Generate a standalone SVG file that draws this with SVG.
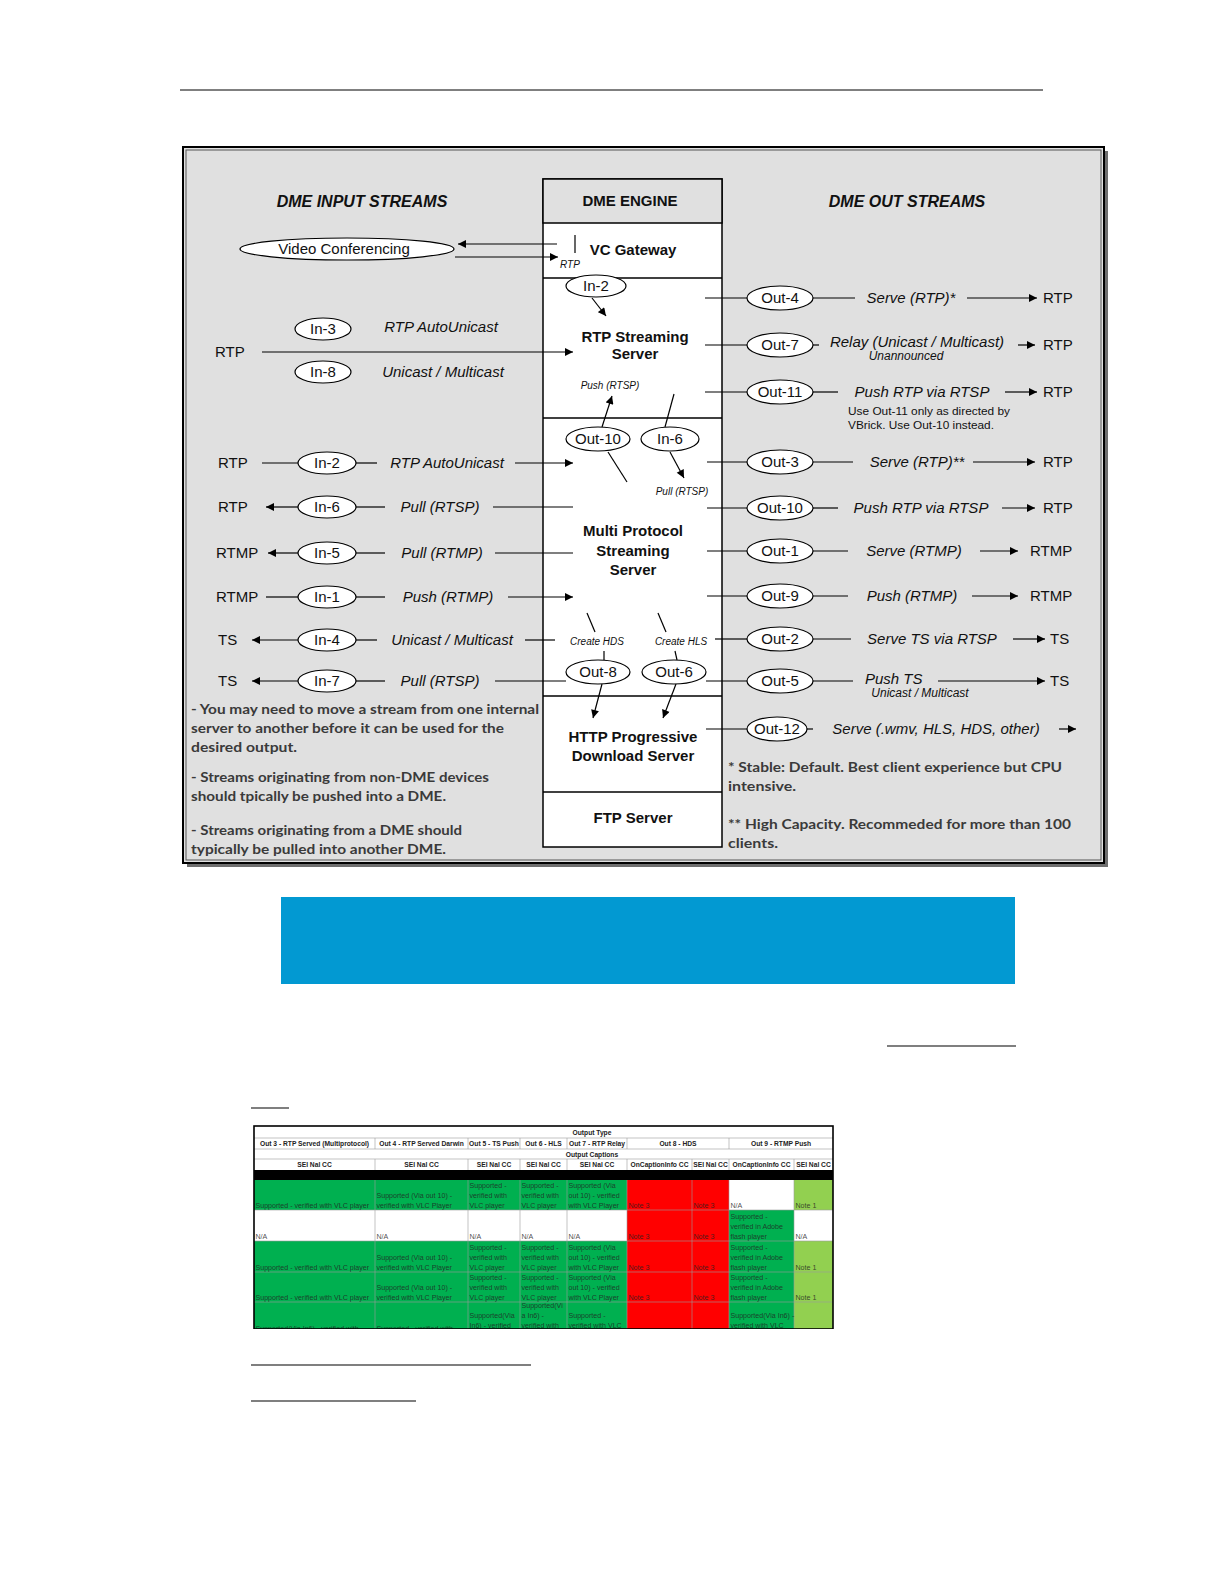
<svg xmlns="http://www.w3.org/2000/svg" width="1224" height="1584" viewBox="0 0 1224 1584">
<style>
.t{font-family:"Liberation Sans",Arial,sans-serif;font-size:15px;fill:#111}
.i{font-style:italic}
.b{font-weight:bold}
.c{text-anchor:middle}
.s{font-size:10px}
.h{font-size:16px;font-weight:bold;font-style:italic}
.n{font-family:Lato,"Open Sans",sans-serif;font-weight:bold;font-size:14px;fill:#3a3a3a}
.ln{stroke:#000;stroke-width:1.2;fill:none}
.ar{stroke:#000;stroke-width:1.2;fill:none;marker-end:url(#ah)}
.el{fill:#fff;stroke:#000;stroke-width:1.2}
.tt{font-family:"Liberation Sans",Arial,sans-serif;font-size:7.1px;fill:#222;fill-opacity:0.8}
.th{font-family:"Liberation Sans",Arial,sans-serif;font-size:6.7px;font-weight:bold;fill:#222;text-anchor:middle}
.gl{stroke:#9a9a9a;stroke-width:0.6}
</style>
<defs>
<marker id="ah" viewBox="0 0 10 10" refX="10" refY="5" markerWidth="9" markerHeight="8" markerUnits="userSpaceOnUse" orient="auto"><path d="M0,0 L10,5 L0,10 z" fill="#000"/></marker>
<clipPath id="tclip"><rect x="253" y="1125" width="581" height="204"/></clipPath>
</defs>
<rect width="1224" height="1584" fill="#fff"/>
<line x1="180" y1="90" x2="1043" y2="90" stroke="#000" stroke-width="1"/>

<g id="frame">
<rect x="187" y="151" width="921" height="716" fill="#6e6e6e"/>
<rect x="183" y="147" width="921" height="716" fill="#e0e0e0" stroke="#000" stroke-width="2"/>
<rect x="186" y="150" width="915" height="710" fill="none" stroke="#555" stroke-width="1"/>
</g>

<g id="headings">
<text class="t h c" x="362" y="207">DME INPUT STREAMS</text>
<text class="t h c" x="907" y="207">DME OUT STREAMS</text>
</g>

<g id="engine">
<rect x="543" y="179" width="179" height="668" fill="#fff" stroke="#000" stroke-width="1.5"/>
<rect x="543" y="179" width="179" height="44" fill="#e0e0e0" stroke="#000" stroke-width="1.5"/>
<line x1="543" y1="278" x2="722" y2="278" stroke="#000" stroke-width="1.5"/>
<line x1="543" y1="418" x2="722" y2="418" stroke="#000" stroke-width="1.5"/>
<line x1="543" y1="696" x2="722" y2="696" stroke="#000" stroke-width="1.5"/>
<line x1="543" y1="792" x2="722" y2="792" stroke="#000" stroke-width="1.5"/>
<text class="t b c" x="630" y="206">DME ENGINE</text>
</g>
<g id="vc-gateway"><text class="t b c" x="633" y="255">VC Gateway</text><text class="t i s" x="560" y="268">RTP</text></g>
<g id="rtp-streaming-server"><text class="t b c" x="635" y="342">RTP Streaming</text><text class="t b c" x="635" y="359">Server</text><text class="t i s c" x="610" y="389">Push (RTSP)</text></g>
<g id="multi-protocol-server"><text class="t b c" x="633" y="536">Multi Protocol</text><text class="t b c" x="633" y="556">Streaming</text><text class="t b c" x="633" y="575">Server</text>
<text class="t i s c" x="682" y="495">Pull (RTSP)</text>
<text class="t i s c" x="597" y="645">Create HDS</text>
<text class="t i s c" x="681" y="645">Create HLS</text></g>
<g id="http-server"><text class="t b c" x="633" y="742">HTTP Progressive</text><text class="t b c" x="633" y="761">Download Server</text></g>
<g id="ftp-server"><text class="t b c" x="633" y="823">FTP Server</text></g>

<g id="connectors">
<line class="ar" x1="557" y1="244" x2="458" y2="244"/>
<line class="ar" x1="455" y1="257" x2="558" y2="257"/>
<line class="ln" x1="575" y1="235" x2="575" y2="253"/>
<line class="ar" x1="592" y1="298" x2="606" y2="316"/>
<line class="ar" x1="262" y1="352" x2="573" y2="352"/>
<line class="ar" x1="602" y1="427" x2="612" y2="396"/>
<line class="ln" x1="665" y1="427" x2="674" y2="394"/>
<line class="ln" x1="608" y1="452" x2="627" y2="482"/>
<line class="ar" x1="670" y1="452" x2="684" y2="478"/>
<line class="ln" x1="587" y1="613" x2="595" y2="632"/>
<line class="ln" x1="658" y1="613" x2="666" y2="632"/>
<line class="ln" x1="604" y1="651" x2="604" y2="660"/>
<line class="ln" x1="675" y1="651" x2="677" y2="660"/>
<line class="ar" x1="602" y1="684" x2="593" y2="718"/>
<line class="ar" x1="676" y1="684" x2="663" y2="718"/>
<line class="ln" x1="262" y1="463" x2="298" y2="463"/><line class="ln" x1="356" y1="463" x2="377" y2="463"/><line class="ar" x1="515" y1="463" x2="573" y2="463"/>
<line class="ar" x1="298" y1="507" x2="266" y2="507"/><line class="ln" x1="356" y1="507" x2="385" y2="507"/><line class="ln" x1="493" y1="507" x2="573" y2="507"/>
<line class="ar" x1="298" y1="553" x2="268" y2="553"/><line class="ln" x1="356" y1="553" x2="385" y2="553"/><line class="ln" x1="495" y1="553" x2="573" y2="553"/>
<line class="ln" x1="266" y1="597" x2="298" y2="597"/><line class="ln" x1="356" y1="597" x2="385" y2="597"/><line class="ar" x1="508" y1="597" x2="573" y2="597"/>
<line class="ar" x1="298" y1="640" x2="252" y2="640"/><line class="ln" x1="356" y1="640" x2="377" y2="640"/><line class="ln" x1="525" y1="640" x2="555" y2="640"/>
<line class="ar" x1="298" y1="681" x2="252" y2="681"/><line class="ln" x1="356" y1="681" x2="385" y2="681"/><line class="ln" x1="495" y1="681" x2="566" y2="681"/>
<line class="ln" x1="705" y1="298" x2="747" y2="298"/><line class="ln" x1="813" y1="298" x2="855" y2="298"/><line class="ar" x1="967" y1="298" x2="1037" y2="298"/>
<line class="ln" x1="705" y1="345" x2="747" y2="345"/><line class="ln" x1="813" y1="345" x2="819" y2="345"/><line class="ar" x1="1018" y1="345" x2="1035" y2="345"/>
<line class="ln" x1="705" y1="392" x2="747" y2="392"/><line class="ln" x1="813" y1="392" x2="838" y2="392"/><line class="ar" x1="1005" y1="392" x2="1037" y2="392"/>
<line class="ln" x1="707" y1="462" x2="747" y2="462"/><line class="ln" x1="813" y1="462" x2="853" y2="462"/><line class="ar" x1="973" y1="462" x2="1035" y2="462"/>
<line class="ln" x1="707" y1="508" x2="747" y2="508"/><line class="ln" x1="813" y1="508" x2="838" y2="508"/><line class="ar" x1="1002" y1="508" x2="1035" y2="508"/>
<line class="ln" x1="707" y1="551" x2="747" y2="551"/><line class="ln" x1="813" y1="551" x2="848" y2="551"/><line class="ar" x1="980" y1="551" x2="1018" y2="551"/>
<line class="ln" x1="707" y1="596" x2="747" y2="596"/><line class="ln" x1="813" y1="596" x2="848" y2="596"/><line class="ar" x1="972" y1="596" x2="1018" y2="596"/>
<line class="ln" x1="715" y1="639" x2="747" y2="639"/><line class="ln" x1="813" y1="639" x2="851" y2="639"/><line class="ar" x1="1013" y1="639" x2="1045" y2="639"/>
<line class="ln" x1="706" y1="681" x2="747" y2="681"/><line class="ln" x1="813" y1="681" x2="853" y2="681"/><line class="ar" x1="938" y1="681" x2="1045" y2="681"/>
<line class="ln" x1="706" y1="729" x2="747" y2="729"/><line class="ln" x1="807" y1="729" x2="813" y2="729"/><line class="ar" x1="1059" y1="729" x2="1076" y2="729"/>
</g>

<g id="video-conferencing"><ellipse class="el" cx="347" cy="249" rx="107" ry="11"/><text class="t c" x="344" y="254">Video Conferencing</text></g>
<g id="in-2-vc"><ellipse class="el" cx="596" cy="286" rx="30" ry="11"/><text class="t c" x="596" y="291">In-2</text></g>
<g id="out-10-engine"><ellipse class="el" cx="598" cy="439" rx="32" ry="12"/><text class="t c" x="598" y="444">Out-10</text></g>
<g id="in-6-engine"><ellipse class="el" cx="670" cy="439" rx="29" ry="12"/><text class="t c" x="670" y="444">In-6</text></g>
<g id="out-8"><ellipse class="el" cx="598" cy="672" rx="32" ry="12"/><text class="t c" x="598" y="677">Out-8</text></g>
<g id="out-6"><ellipse class="el" cx="674" cy="672" rx="32" ry="12"/><text class="t c" x="674" y="677">Out-6</text></g>

<g id="in-3"><ellipse class="el" cx="323" cy="329" rx="28" ry="11"/><text class="t c" x="323" y="334">In-3</text><text class="t i c" x="441" y="332">RTP AutoUnicast</text></g>
<g id="rtp-in"><text class="t" x="215" y="357">RTP</text></g>
<g id="in-8"><ellipse class="el" cx="323" cy="372" rx="28" ry="11"/><text class="t c" x="323" y="377">In-8</text><text class="t i c" x="443" y="377">Unicast / Multicast</text></g>

<g id="in-2"><text class="t" x="218" y="468">RTP</text><ellipse class="el" cx="327" cy="463" rx="29" ry="11"/><text class="t c" x="327" y="468">In-2</text><text class="t i c" x="447" y="468">RTP AutoUnicast</text></g>
<g id="in-6"><text class="t" x="218" y="512">RTP</text><ellipse class="el" cx="327" cy="507" rx="29" ry="11"/><text class="t c" x="327" y="512">In-6</text><text class="t i c" x="440" y="512">Pull (RTSP)</text></g>
<g id="in-5"><text class="t" x="216" y="558">RTMP</text><ellipse class="el" cx="327" cy="553" rx="29" ry="11"/><text class="t c" x="327" y="558">In-5</text><text class="t i c" x="442" y="558">Pull (RTMP)</text></g>
<g id="in-1"><text class="t" x="216" y="602">RTMP</text><ellipse class="el" cx="327" cy="597" rx="29" ry="11"/><text class="t c" x="327" y="602">In-1</text><text class="t i c" x="448" y="602">Push (RTMP)</text></g>
<g id="in-4"><text class="t" x="218" y="645">TS</text><ellipse class="el" cx="327" cy="640" rx="29" ry="11"/><text class="t c" x="327" y="645">In-4</text><text class="t i c" x="452" y="645">Unicast / Multicast</text></g>
<g id="in-7"><text class="t" x="218" y="686">TS</text><ellipse class="el" cx="327" cy="681" rx="29" ry="11"/><text class="t c" x="327" y="686">In-7</text><text class="t i c" x="440" y="686">Pull (RTSP)</text></g>

<g id="out-4"><ellipse class="el" cx="780" cy="298" rx="33" ry="12"/><text class="t c" x="780" y="303">Out-4</text><text class="t i c" x="911" y="303">Serve (RTP)*</text><text class="t" x="1043" y="303">RTP</text></g>
<g id="out-7"><ellipse class="el" cx="780" cy="345" rx="33" ry="12"/><text class="t c" x="780" y="350">Out-7</text><text class="t i c" x="917" y="347">Relay (Unicast / Multicast)</text><text class="t i c" x="906" y="360" style="font-size:12px">Unannounced</text><text class="t" x="1043" y="350">RTP</text></g>
<g id="out-11"><ellipse class="el" cx="780" cy="392" rx="33" ry="12"/><text class="t c" x="780" y="397">Out-11</text><text class="t i c" x="922" y="397">Push RTP via RTSP</text><text class="t" x="1043" y="397">RTP</text>
<text class="t" x="848" y="415" style="font-size:11px" textLength="162" lengthAdjust="spacingAndGlyphs">Use Out-11 only as directed by</text>
<text class="t" x="848" y="429" style="font-size:11px" textLength="146" lengthAdjust="spacingAndGlyphs">VBrick. Use Out-10 instead.</text></g>
<g id="out-3"><ellipse class="el" cx="780" cy="462" rx="33" ry="12"/><text class="t c" x="780" y="467">Out-3</text><text class="t i c" x="917" y="467">Serve (RTP)**</text><text class="t" x="1043" y="467">RTP</text></g>
<g id="out-10"><ellipse class="el" cx="780" cy="508" rx="33" ry="12"/><text class="t c" x="780" y="513">Out-10</text><text class="t i c" x="921" y="513">Push RTP via RTSP</text><text class="t" x="1043" y="513">RTP</text></g>
<g id="out-1"><ellipse class="el" cx="780" cy="551" rx="33" ry="12"/><text class="t c" x="780" y="556">Out-1</text><text class="t i c" x="914" y="556">Serve (RTMP)</text><text class="t" x="1030" y="556">RTMP</text></g>
<g id="out-9"><ellipse class="el" cx="780" cy="596" rx="33" ry="12"/><text class="t c" x="780" y="601">Out-9</text><text class="t i c" x="912" y="601">Push (RTMP)</text><text class="t" x="1030" y="601">RTMP</text></g>
<g id="out-2"><ellipse class="el" cx="780" cy="639" rx="33" ry="12"/><text class="t c" x="780" y="644">Out-2</text><text class="t i c" x="932" y="644">Serve TS via RTSP</text><text class="t" x="1050" y="644">TS</text></g>
<g id="out-5"><ellipse class="el" cx="780" cy="681" rx="33" ry="12"/><text class="t c" x="780" y="686">Out-5</text><text class="t i" x="865" y="684">Push TS</text><text class="t i c" x="920" y="697" style="font-size:12px">Unicast / Multicast</text><text class="t" x="1050" y="686">TS</text></g>
<g id="out-12"><ellipse class="el" cx="777" cy="729" rx="30" ry="12"/><text class="t c" x="777" y="734">Out-12</text><text class="t i c" x="936" y="734">Serve (.wmv, HLS, HDS, other)</text></g>

<g id="notes-left">
<text class="n" x="191" y="714" textLength="348" lengthAdjust="spacingAndGlyphs">- You may need to move a stream from one internal</text>
<text class="n" x="191" y="733" textLength="313" lengthAdjust="spacingAndGlyphs">server to another before it can be used for the</text>
<text class="n" x="191" y="752" textLength="106" lengthAdjust="spacingAndGlyphs">desired output.</text>
<text class="n" x="191" y="782" textLength="298" lengthAdjust="spacingAndGlyphs">- Streams originating from non-DME devices</text>
<text class="n" x="191" y="801" textLength="255" lengthAdjust="spacingAndGlyphs">should tpically be pushed into a DME.</text>
<text class="n" x="191" y="835" textLength="271" lengthAdjust="spacingAndGlyphs">- Streams originating from a DME should</text>
<text class="n" x="191" y="854" textLength="255" lengthAdjust="spacingAndGlyphs">typically be pulled into another DME.</text>
</g>
<g id="notes-right">
<text class="n" x="728" y="772" textLength="334" lengthAdjust="spacingAndGlyphs">* Stable: Default. Best client experience but CPU</text>
<text class="n" x="728" y="791" textLength="68" lengthAdjust="spacingAndGlyphs">intensive.</text>
<text class="n" x="728" y="829" textLength="343" lengthAdjust="spacingAndGlyphs">** High Capacity.  Recommeded for more than 100</text>
<text class="n" x="728" y="848" textLength="50" lengthAdjust="spacingAndGlyphs">clients.</text>
</g>

<g id="blue-banner"><rect x="281" y="897" width="734" height="87" fill="#0299d2"/></g>
<line x1="887" y1="1046" x2="1016" y2="1046" stroke="#000" stroke-width="1.2"/>
<line x1="251" y1="1108" x2="289" y2="1108" stroke="#000" stroke-width="1.2"/>

<g id="table" clip-path="url(#tclip)">
<rect x="254" y="1126" width="579" height="203" fill="#fff"/>
<line class="gl" x1="254" y1="1138" x2="833" y2="1138"/>
<line class="gl" x1="254" y1="1149" x2="833" y2="1149"/>
<line class="gl" x1="254" y1="1159" x2="833" y2="1159"/>
<g class="gl"><line x1="375" y1="1138" x2="375" y2="1149"/><line x1="468" y1="1138" x2="468" y2="1149"/><line x1="520" y1="1138" x2="520" y2="1149"/><line x1="567" y1="1138" x2="567" y2="1149"/><line x1="627" y1="1138" x2="627" y2="1149"/><line x1="729" y1="1138" x2="729" y2="1149"/>
<line x1="375" y1="1159" x2="375" y2="1170"/><line x1="468" y1="1159" x2="468" y2="1170"/><line x1="520" y1="1159" x2="520" y2="1170"/><line x1="567" y1="1159" x2="567" y2="1170"/><line x1="627" y1="1159" x2="627" y2="1170"/><line x1="692" y1="1159" x2="692" y2="1170"/><line x1="729" y1="1159" x2="729" y2="1170"/><line x1="794" y1="1159" x2="794" y2="1170"/></g>
<text class="th" x="592" y="1135">Output Type</text>
<text class="th" x="314.5" y="1146">Out 3 - RTP Served (Multiprotocol)</text>
<text class="th" x="421.5" y="1146">Out 4 - RTP Served Darwin</text>
<text class="th" x="494" y="1146">Out 5 - TS Push</text>
<text class="th" x="543.5" y="1146">Out 6 - HLS</text>
<text class="th" x="597" y="1146">Out 7 - RTP Relay</text>
<text class="th" x="678" y="1146">Out 8 - HDS</text>
<text class="th" x="781" y="1146">Out 9 - RTMP Push</text>
<text class="th" x="592" y="1157">Output Captions</text>
<text class="th" x="314.5" y="1167">SEI Nal CC</text>
<text class="th" x="421.5" y="1167">SEI Nal CC</text>
<text class="th" x="494" y="1167">SEI Nal CC</text>
<text class="th" x="543.5" y="1167">SEI Nal CC</text>
<text class="th" x="597" y="1167">SEI Nal CC</text>
<text class="th" x="659.5" y="1167">OnCaptionInfo CC</text>
<text class="th" x="710.5" y="1167">SEI Nal CC</text>
<text class="th" x="761.5" y="1167">OnCaptionInfo CC</text>
<text class="th" x="813.5" y="1167">SEI Nal CC</text>
<rect x="254" y="1170" width="579" height="10" fill="#000"/>
<rect x="254" y="1180" width="373" height="30" fill="#00b050"/><rect x="627" y="1180" width="102" height="30" fill="#ff0000"/><rect x="794" y="1180" width="39" height="30" fill="#92d050"/>
<rect x="627" y="1210" width="102" height="31" fill="#ff0000"/><rect x="729" y="1210" width="65" height="31" fill="#00b050"/>
<rect x="254" y="1241" width="373" height="61" fill="#00b050"/><rect x="627" y="1241" width="102" height="61" fill="#ff0000"/><rect x="729" y="1241" width="65" height="61" fill="#00b050"/><rect x="794" y="1241" width="39" height="61" fill="#92d050"/>
<rect x="254" y="1302" width="373" height="28" fill="#00b050"/><rect x="627" y="1302" width="102" height="28" fill="#ff0000"/><rect x="729" y="1302" width="65" height="28" fill="#00b050"/><rect x="794" y="1302" width="39" height="28" fill="#92d050"/>
<g class="gl"><line x1="254" y1="1210" x2="833" y2="1210"/><line x1="254" y1="1241" x2="833" y2="1241"/><line x1="254" y1="1272" x2="833" y2="1272"/><line x1="254" y1="1302" x2="833" y2="1302"/>
<line x1="375" y1="1180" x2="375" y2="1329"/><line x1="468" y1="1180" x2="468" y2="1329"/><line x1="520" y1="1180" x2="520" y2="1329"/><line x1="567" y1="1180" x2="567" y2="1329"/><line x1="627" y1="1180" x2="627" y2="1329"/><line x1="692" y1="1180" x2="692" y2="1329"/><line x1="729" y1="1180" x2="729" y2="1329"/><line x1="794" y1="1180" x2="794" y2="1329"/></g>
<text class="tt" x="255.5" y="1208">Supported - verified with VLC player</text>
<text class="tt" x="376.5" y="1198">Supported (Via out 10) -</text><text class="tt" x="376.5" y="1208">verified with VLC Player</text>
<text class="tt" x="469.5" y="1188">Supported -</text><text class="tt" x="469.5" y="1198">verified with</text><text class="tt" x="469.5" y="1208">VLC player</text>
<text class="tt" x="521.5" y="1188">Supported -</text><text class="tt" x="521.5" y="1198">verified with</text><text class="tt" x="521.5" y="1208">VLC player</text>
<text class="tt" x="568.5" y="1188">Supported (Via</text><text class="tt" x="568.5" y="1198">out 10) - verified</text><text class="tt" x="568.5" y="1208">with VLC Player</text>
<text class="tt" x="628.5" y="1208">Note 3</text><text class="tt" x="693.5" y="1208">Note 3</text>
<text class="tt" x="730.5" y="1208">N/A</text><text class="tt" x="795.5" y="1208">Note 1</text>
<text class="tt" x="255.5" y="1239">N/A</text><text class="tt" x="376.5" y="1239">N/A</text><text class="tt" x="469.5" y="1239">N/A</text><text class="tt" x="521.5" y="1239">N/A</text><text class="tt" x="568.5" y="1239">N/A</text>
<text class="tt" x="628.5" y="1239">Note 3</text><text class="tt" x="693.5" y="1239">Note 3</text>
<text class="tt" x="730.5" y="1219">Supported -</text><text class="tt" x="730.5" y="1229">verified in Adobe</text><text class="tt" x="730.5" y="1239">flash player</text>
<text class="tt" x="795.5" y="1239">N/A</text>
<text class="tt" x="255.5" y="1270">Supported - verified with VLC player</text>
<text class="tt" x="376.5" y="1260">Supported (Via out 10) -</text><text class="tt" x="376.5" y="1270">verified with VLC Player</text>
<text class="tt" x="469.5" y="1250">Supported -</text><text class="tt" x="469.5" y="1260">verified with</text><text class="tt" x="469.5" y="1270">VLC player</text>
<text class="tt" x="521.5" y="1250">Supported -</text><text class="tt" x="521.5" y="1260">verified with</text><text class="tt" x="521.5" y="1270">VLC player</text>
<text class="tt" x="568.5" y="1250">Supported (Via</text><text class="tt" x="568.5" y="1260">out 10) - verified</text><text class="tt" x="568.5" y="1270">with VLC Player</text>
<text class="tt" x="628.5" y="1270">Note 3</text><text class="tt" x="693.5" y="1270">Note 3</text>
<text class="tt" x="730.5" y="1250">Supported -</text><text class="tt" x="730.5" y="1260">verified in Adobe</text><text class="tt" x="730.5" y="1270">flash player</text>
<text class="tt" x="795.5" y="1270">Note 1</text>
<text class="tt" x="255.5" y="1300">Supported - verified with VLC player</text>
<text class="tt" x="376.5" y="1290">Supported (Via out 10) -</text><text class="tt" x="376.5" y="1300">verified with VLC Player</text>
<text class="tt" x="469.5" y="1280">Supported -</text><text class="tt" x="469.5" y="1290">verified with</text><text class="tt" x="469.5" y="1300">VLC player</text>
<text class="tt" x="521.5" y="1280">Supported -</text><text class="tt" x="521.5" y="1290">verified with</text><text class="tt" x="521.5" y="1300">VLC player</text>
<text class="tt" x="568.5" y="1280">Supported (Via</text><text class="tt" x="568.5" y="1290">out 10) - verified</text><text class="tt" x="568.5" y="1300">with VLC Player</text>
<text class="tt" x="628.5" y="1300">Note 3</text><text class="tt" x="693.5" y="1300">Note 3</text>
<text class="tt" x="730.5" y="1280">Supported -</text><text class="tt" x="730.5" y="1290">verified in Adobe</text><text class="tt" x="730.5" y="1300">flash player</text>
<text class="tt" x="795.5" y="1300">Note 1</text>
<text class="tt" x="255.5" y="1331">Supported(Via In6) - verified with</text>
<text class="tt" x="376.5" y="1331">Supported - verified with</text>
<text class="tt" x="469.5" y="1318">Supported(Via</text><text class="tt" x="469.5" y="1328">In6) - verified</text>
<text class="tt" x="521.5" y="1308">Supported(Vi</text><text class="tt" x="521.5" y="1318">a In6) -</text><text class="tt" x="521.5" y="1328">verified with</text>
<text class="tt" x="568.5" y="1318">Supported -</text><text class="tt" x="568.5" y="1328">verified with VLC</text>
<text class="tt" x="730.5" y="1318">Supported(Via In6) -</text><text class="tt" x="730.5" y="1328">verified with VLC</text>
<rect x="254" y="1126" width="579" height="203" fill="none" stroke="#000" stroke-width="1.6"/>
</g>
<line x1="251" y1="1365" x2="531" y2="1365" stroke="#000" stroke-width="1.2"/>
<line x1="251" y1="1401" x2="416" y2="1401" stroke="#000" stroke-width="1.2"/>
</svg>
